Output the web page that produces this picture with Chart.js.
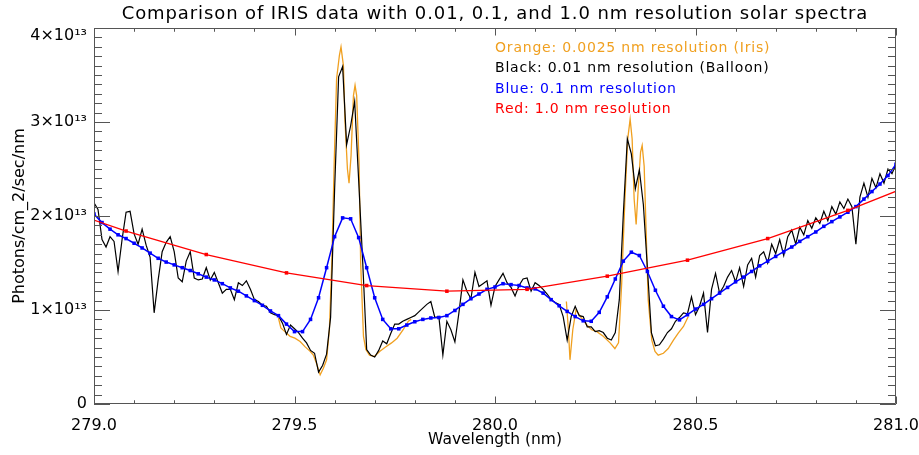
<!DOCTYPE html>
<html>
<head>
<meta charset="utf-8">
<script src="https://cdn.jsdelivr.net/npm/chart.js@4"></script>
<style>
  html, body { margin: 0; padding: 0; background: #fff; }
  #wrap { width: 919px; height: 455px; }
</style>
</head>
<body>
<div id="wrap"><canvas id="spectrum" width="919" height="455"></canvas></div>
<script>
// flux values are in units of 1e12 photons/cm2/sec/nm

// black: 0.01 nm resolution (balloon), sampled every 0.01 nm from 279.00 to 281.00
const blackFlux = [
  21.4, 20.7, 17.5, 16.7, 17.8, 17.3, 14.1, 17.5, 20.4, 20.5,
  18.1, 17.0, 18.6, 16.9, 15.6, 9.7, 13.2, 16.2, 17.2, 17.8,
  16.2, 13.4, 13.0, 15.2, 16.2, 13.4, 13.2, 13.3, 14.5, 13.2,
  14.0, 12.9, 11.8, 12.2, 12.2, 11.1, 12.9, 12.6, 13.1, 12.2,
  11.1, 10.9, 10.5, 10.4, 9.7, 9.5, 9.4, 8.6, 7.4, 8.4,
  8.0, 7.6, 7.0, 6.5, 5.7, 5.4, 3.4, 4.1, 5.3, 9.2,
  22.8, 34.8, 35.9, 27.6, 29.6, 32.2, 23.8, 15.2, 5.8, 5.2,
  5.0, 5.7, 6.7, 6.4, 7.5, 8.5, 8.5, 8.8, 9.0, 9.2,
  9.4, 9.8, 10.2, 10.6, 10.9, 9.2, 9.3, 5.2, 8.8, 7.9,
  6.6, 9.7, 13.2, 12.0, 11.2, 14.0, 12.5, 12.8, 13.1, 10.5,
  12.5, 13.2, 13.9, 12.9, 12.4, 11.5, 12.6, 13.3, 13.4, 12.0,
  12.9, 12.6, 12.2, 11.7, 11.1, 10.8, 10.6, 9.3, 6.8, 9.3,
  10.4, 9.4, 9.3, 8.2, 8.2, 7.7, 7.8, 7.6, 7.0, 6.8,
  7.6, 11.1, 20.2, 28.2, 26.6, 22.9, 24.9, 21.2, 14.5, 7.6,
  6.2, 6.3, 6.9, 7.6, 8.0, 8.8, 9.2, 9.7, 9.6, 11.4,
  9.5, 10.4, 11.8, 7.6, 12.2, 13.9, 11.8, 12.5, 13.5, 14.2,
  13.0, 14.5, 12.5, 14.8, 15.5, 13.5, 15.8, 16.2, 15.0, 17.0,
  16.0, 17.5, 15.8, 17.8, 18.5, 17.0, 18.8, 18.0, 19.5, 18.7,
  19.8, 19.2, 20.5, 19.5, 21.0, 20.2, 21.5, 20.8, 21.8, 21.0,
  17.0, 22.0, 23.5, 22.0, 24.0, 23.0, 24.5, 23.5, 25.0, 24.5,
  25.5
];
const blackWave = blackFlux.map((_, i) => +(279 + i * 0.01).toFixed(2));

// blue: 0.1 nm resolution, sampled every 0.02 nm
const blueFlux = [
  20.2, 19.3, 18.6, 18.0, 17.6, 17.1, 16.6, 16.05, 15.5, 15.1,
  14.8, 14.5, 14.2, 13.85, 13.5, 13.2, 12.8, 12.35, 12.0, 11.5,
  11.0, 10.5, 9.9, 9.4, 8.5, 7.7, 7.7, 9.0, 11.3, 14.5,
  17.8, 19.8, 19.7, 17.7, 14.5, 11.3, 9.0, 8.0, 8.0, 8.4,
  8.75, 9.0, 9.15, 9.2, 9.4, 9.95, 10.6, 11.2, 11.7, 12.2,
  12.45, 12.8, 12.7, 12.6, 12.35, 12.25, 11.8, 11.1, 10.45, 9.85,
  9.3, 8.85, 8.8, 9.75, 11.4, 13.3, 15.2, 16.15, 15.8, 14.1,
  12.1, 10.4, 9.3, 8.95, 9.5, 10.1, 10.6, 11.2, 11.8, 12.4,
  13.0, 13.5, 14.1, 14.7, 15.2, 15.7, 16.2, 16.7, 17.3, 17.8,
  18.3, 18.9, 19.4, 19.9, 20.4, 21.0, 21.8, 22.6, 23.4, 24.3,
  25.5
];
const blueWave = blueFlux.map((_, i) => +(279 + i * 0.02).toFixed(2));

// red: 1.0 nm resolution
const redWave = [278.88, 279.08, 279.28, 279.48, 279.68, 279.88, 280.08, 280.28, 280.48, 280.68, 280.88, 281.08];
const redFlux = [21.3, 18.4, 15.9, 13.95, 12.6, 12.0, 12.2, 13.6, 15.3, 17.6, 20.6, 24.0];

// orange: 0.0025 nm resolution (IRIS), two windows around Mg II k and h
const orangeWaveK = [
  279.460, 279.466, 279.476, 279.489, 279.501, 279.514, 279.526, 279.539, 279.547, 279.555,
  279.564, 279.572, 279.580, 279.587, 279.593, 279.599, 279.605, 279.612, 279.616, 279.622,
  279.626, 279.632, 279.636, 279.641, 279.647, 279.651, 279.655, 279.661, 279.665, 279.672,
  279.678, 279.687, 279.699, 279.713, 279.728, 279.742, 279.756, 279.771, 279.784, 279.791
];
const orangeFluxK = [
  9.15, 8.1, 7.7, 7.2, 7.0, 6.65, 6.1, 5.6, 5.2, 4.3,
  3.1, 3.8, 4.7, 7.9, 15.0, 25.7, 34.6, 37.1, 38.0, 36.0,
  30.0, 25.0, 23.5, 26.4, 32.8, 33.9, 32.8, 25.7, 15.0, 7.2,
  5.8, 5.2, 5.05, 5.6, 6.1, 6.5, 7.0, 7.9, 8.8, 9.0
];
const orangeWaveH = [
  280.178, 280.183, 280.187, 280.194, 280.202, 280.215, 280.229, 280.241, 280.254, 280.270,
  280.287, 280.299, 280.308, 280.316, 280.324, 280.331, 280.337, 280.342, 280.347, 280.352,
  280.357, 280.363, 280.367, 280.372, 280.377, 280.382, 280.391, 280.399, 280.407, 280.420,
  280.432, 280.445, 280.457, 280.470, 280.482
];
const orangeFluxH = [
  10.9, 7.9, 4.7, 7.9, 10.0, 9.2, 8.4, 7.9, 7.7, 7.2,
  6.5, 5.9, 6.5, 12.9, 21.8, 28.2, 30.3, 28.2, 21.8, 19.1,
  22.8, 26.8, 27.5, 25.3, 18.2, 11.1, 6.8, 5.6, 5.2, 5.4,
  5.9, 6.8, 7.55, 8.25, 9.3
];

const yTicks = [0, 10, 20, 30, 40];
const titleText = 'Comparison of IRIS data with 0.01, 0.1, and 1.0 nm resolution solar spectra';
const legendLines = [
  { text: 'Orange: 0.0025 nm resolution (Iris)', color: '#F0A020' },
  { text: 'Black: 0.01 nm resolution (Balloon)', color: '#000000' },
  { text: 'Blue: 0.1 nm resolution', color: '#0000FF' },
  { text: 'Red: 1.0 nm resolution', color: '#FF0000' }
];

const FONT = '"DejaVu Sans", sans-serif';

function pairs(xs, ys) {
  return xs.map((x, i) => ({ x: x, y: ys[i] }));
}

const orangeData = pairs(orangeWaveK, orangeFluxK)
  .concat([{ x: 280.0, y: null }])
  .concat(pairs(orangeWaveH, orangeFluxH));

// frame with inward ticks on all four sides, IDL style
const frameTicks = {
  id: 'frameTicks',
  afterDatasetsDraw(chart) {
    const { ctx, chartArea: a, scales: { x, y } } = chart;
    ctx.save();
    ctx.strokeStyle = '#555';
    ctx.lineWidth = 1;
    ctx.beginPath();
    ctx.rect(a.left + 0.5, a.top + 0.5, a.right - a.left - 1, a.bottom - a.top - 1);
    for (let i = 0; i <= 20; i++) {
      const px = Math.round(x.getPixelForValue(279 + i * 0.1)) + 0.5;
      const len = i % 5 === 0 ? 7.5 : 3.75;
      ctx.moveTo(px, a.bottom); ctx.lineTo(px, a.bottom - len);
      ctx.moveTo(px, a.top); ctx.lineTo(px, a.top + len);
    }
    for (let i = 0; i <= 40; i++) {
      const py = Math.round(y.getPixelForValue(i)) + 0.5;
      const len = i % 10 === 0 ? 16 : 8;
      ctx.moveTo(a.left, py); ctx.lineTo(a.left + len, py);
      ctx.moveTo(a.right, py); ctx.lineTo(a.right - len, py);
    }
    ctx.stroke();
    ctx.restore();
  },
  afterDraw(chart) {
    const { ctx, chartArea: a } = chart;
    ctx.save();
    ctx.fillStyle = '#000';
    ctx.textAlign = 'center';
    ctx.textBaseline = 'middle';
    ctx.font = '18px ' + FONT;
    ctx.letterSpacing = '0.9px';
    ctx.fillText(titleText, (a.left + a.right) / 2, 14);
    ctx.letterSpacing = '0px';
    ctx.font = '15.5px ' + FONT;
    ctx.fillText('Wavelength (nm)', (a.left + a.right) / 2, 440);
    ctx.save();
    ctx.translate(20, (a.top + a.bottom) / 2);
    ctx.rotate(-Math.PI / 2);
    ctx.font = '16px ' + FONT;
    ctx.fillText('Photons/cm_2/sec/nm', 0, 0);
    ctx.restore();
    ctx.textAlign = 'left';
    ctx.font = '14px ' + FONT;
    ctx.letterSpacing = '0.8px';
    legendLines.forEach((l, i) => {
      ctx.fillStyle = l.color;
      ctx.fillText(l.text, 495, 48 + i * 20.5);
    });
    ctx.restore();
  }
};

new Chart(document.getElementById('spectrum'), {
  type: 'line',
  data: {
    datasets: [
      {
        label: 'Red: 1.0 nm resolution',
        data: pairs(redWave, redFlux),
        borderColor: '#FF0000',
        backgroundColor: '#FF0000',
        borderWidth: 1.3,
        pointStyle: 'rect',
        pointRadius: 2.5,
        pointBorderWidth: 0,
        order: 1
      },
      {
        label: 'Blue: 0.1 nm resolution',
        data: pairs(blueWave, blueFlux),
        borderColor: '#0000FF',
        backgroundColor: '#0000FF',
        borderWidth: 1.5,
        pointStyle: 'rect',
        pointRadius: 2.5,
        pointBorderWidth: 0,
        order: 2
      },
      {
        label: 'Black: 0.01 nm resolution (Balloon)',
        data: pairs(blackWave, blackFlux),
        borderColor: '#000000',
        borderWidth: 1.2,
        pointRadius: 0,
        order: 3
      },
      {
        label: 'Orange: 0.0025 nm resolution (Iris)',
        data: orangeData,
        borderColor: '#F0A020',
        borderWidth: 1.3,
        pointRadius: 0,
        spanGaps: false,
        order: 4
      }
    ]
  },
  options: {
    responsive: false,
    animation: false,
    devicePixelRatio: 1,
    layout: { padding: { top: 28, right: 23, left: 0, bottom: 0 } },
    plugins: {
      legend: { display: false },
      tooltip: { enabled: false }
    },
    scales: {
      x: {
        type: 'linear',
        min: 279,
        max: 281,
        grid: { display: false, drawTicks: false },
        border: { display: false },
        ticks: {
          stepSize: 0.5,
          padding: 12,
          color: '#000',
          font: { family: FONT, size: 16 },
          callback: v => v.toFixed(1)
        },
        afterFit: s => {
          s.height = 51;
          s.paddingLeft = 0;
          s.paddingRight = 0;
        }
      },
      y: {
        min: 0,
        max: 40,
        grid: { display: false, drawTicks: false },
        border: { display: false },
        afterBuildTicks: s => { s.ticks = yTicks.map(v => ({ value: v })); },
        ticks: {
          padding: 7,
          color: '#000',
          font: { family: FONT, size: 16, lineHeight: 1.0 },
          callback: v => {
            if (v === 0) return '0';
            const label = (v / 10) + '×10¹³';
            // the top label sits just below the frame corner, as in the original
            return v === yTicks[yTicks.length - 1] ? ['', label] : label;
          }
        },
        afterFit: s => {
          s.width = 94;
          s.paddingTop = 0;
          s.paddingBottom = 0;
        }
      }
    }
  },
  plugins: [frameTicks]
});
</script>
</body>
</html>
